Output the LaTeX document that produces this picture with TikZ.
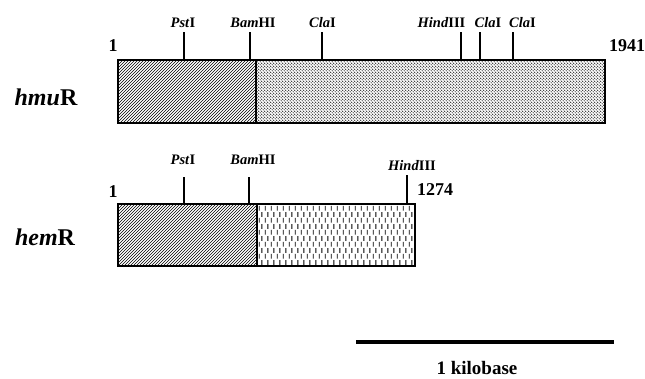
\documentclass[tikz,border=0pt]{standalone}
\usepackage{fontspec}
\setmainfont{Liberation Serif}
\usetikzlibrary{patterns,patterns.meta}
\tikzdeclarepattern{name=vdashes, type=uncolored,
  bounding box={(0pt,0pt) and (6pt,12pt)}, tile size={(6pt,12pt)},
  code={\draw[line width=1pt] (1.5pt,0.5pt) -- (1.5pt,5.5pt);
        \draw[line width=1pt] (4.5pt,6.5pt) -- (4.5pt,11.5pt);}}
\tikzdeclarepattern{name=densedots, type=uncolored,
  bounding box={(0pt,0pt) and (3.4pt,3.4pt)}, tile size={(3.4pt,3.4pt)},
  code={\fill (0.85pt,0.85pt) circle (0.7pt);
        \fill (2.55pt,2.55pt) circle (0.7pt);}}
\begin{document}
\begin{tikzpicture}[x=1pt,y=-1pt,
  bar/.style={line width=2.4pt},
  tick/.style={line width=2pt},
  site/.style={font=\fontsize{14.5}{16}\selectfont\bfseries, anchor=base, inner sep=0pt},
  num/.style={font=\fontsize{18}{20}\selectfont\bfseries, anchor=base, inner sep=0pt},
  gene/.style={font=\fontsize{24}{26}\selectfont\bfseries, anchor=base, inner sep=0pt}]
\useasboundingbox (0,0) rectangle (645,378);

% ---------- hmuR ----------
\fill[pattern=north east lines] (118,60) rectangle (256,123);
\fill[pattern=densedots] (256,60) rectangle (605,123);
\draw[bar] (118,60) rectangle (605,123);
\draw[bar] (256,60) -- (256,123);

\node[gene] (hmu) at (46,105) {\textit{hmu}R};
\node[num] (h1) at (113,51) {1};
\node[num] (h1941) at (627,51) {1941};

\coordinate (tp1) at (184,32); \coordinate (bp1) at (184,60);
\coordinate (tb1) at (250,32); \coordinate (bb1) at (250,60);
\coordinate (tc1) at (322,32); \coordinate (bc1) at (322,60);
\coordinate (th1) at (461,32); \coordinate (bh1) at (461,60);
\coordinate (tc2) at (480,32); \coordinate (bc2) at (480,60);
\coordinate (tc3) at (513,32); \coordinate (bc3) at (513,60);
\foreach \a/\b in {tp1/bp1,tb1/bb1,tc1/bc1,th1/bh1,tc2/bc2,tc3/bc3}
  \draw[tick] (\a) -- (\b);

\node[site] (pst1) at (183,27) {\textit{Pst}I};
\node[site] (bam1) at (253,27) {\textit{Bam}HI};
\node[site] (cla1) at (322.5,27) {\textit{Cla}I};
\node[site] (hind1) at (441.5,27) {\textit{Hind}III};
\node[site] (cla2) at (488,27) {\textit{Cla}I};
\node[site] (cla3) at (522.5,27) {\textit{Cla}I};

% ---------- hemR ----------
\fill[pattern=north east lines] (118,204) rectangle (257,266);
\fill[pattern=vdashes] (257,204) rectangle (415,266);
\draw[bar] (118,204) rectangle (415,266);
\draw[bar] (257,204) -- (257,266);

\node[gene] (hem) at (45,245) {\textit{hem}R};
\node[num] (e1) at (113,197) {1};
\node[num] (e1274) at (435,195) {1274};

\coordinate (tp2) at (184,177); \coordinate (bp2) at (184,204);
\coordinate (tb2) at (249,177); \coordinate (bb2) at (249,204);
\coordinate (th2) at (407,175); \coordinate (bh2) at (407,204);
\foreach \a/\b in {tp2/bp2,tb2/bb2,th2/bh2}
  \draw[tick] (\a) -- (\b);

\node[site] (pst2) at (183,164) {\textit{Pst}I};
\node[site] (bam2) at (253,164) {\textit{Bam}HI};
\node[site] (hind2) at (412,170) {\textit{Hind}III};

% ---------- scale ----------
\coordinate (s1) at (356,342);
\coordinate (s2) at (614,342);
\draw[line width=4pt] (s1) -- (s2);
\node[num, font=\fontsize{19}{21}\selectfont\bfseries] (kb) at (477,374) {1 kilobase};
\end{tikzpicture}
\end{document}
